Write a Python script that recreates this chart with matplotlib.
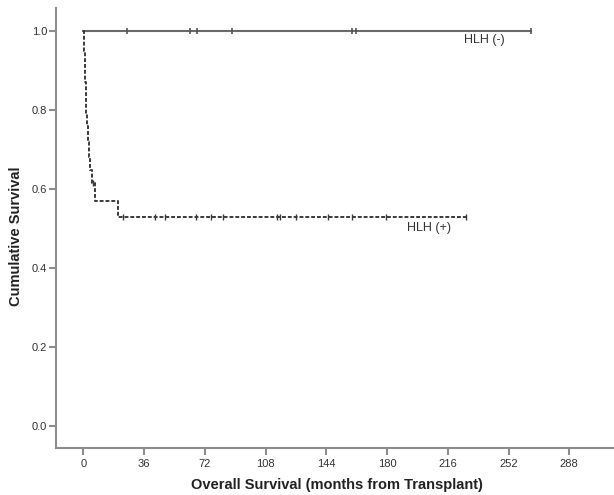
import numpy as np
import matplotlib.pyplot as plt

# Kaplan-Meier steps (months, survival after the step)
neg_times = [0, 265.4]
neg_surv = [1.0, 1.0]
neg_censor = [25.7, 63.3, 67.6, 88.0, 159.2, 161.7, 265.4]

pos_times = [0, 0.6, 0.9, 1.2, 1.5, 1.8, 2.1, 2.6, 3.2, 4.0, 5.2, 7.0, 20.8, 227.0]
pos_surv = [1.0, 0.95, 0.91, 0.87, 0.83, 0.79, 0.76, 0.72, 0.68, 0.648, 0.615, 0.570, 0.529, 0.529]
pos_censor_t = [5.8, 23.7, 42.5, 48.5, 66.8, 75.5, 83.0, 115.0, 116.7, 126.2, 144.7, 159.2, 179.5, 227.0]

x_ticks = [0, 36, 72, 108, 144, 180, 216, 252, 288]
y_ticks = [0.0, 0.2, 0.4, 0.6, 0.8, 1.0]

plt.rcParams['font.family'] = ['Liberation Sans', 'DejaVu Sans']

fig = plt.figure(figsize=(6.14, 4.95), dpi=100)
ax = fig.add_axes([55.7 / 614, 47 / 495, 1 - 55.7 / 614, (448 - 8) / 495])

ax.step(neg_times, neg_surv, where='post', color='#6a6a6a', lw=1.5)
ax.plot(neg_censor, [1.0] * len(neg_censor), ls='none', marker='|',
        ms=5, mew=1.2, color='#555555')

pos_line_style = (0, (2, 1))
ax.step(pos_times, pos_surv, where='post', color='#3a3a3a', lw=1.4, ls=pos_line_style)


def surv_at(t):
    idx = np.searchsorted(pos_times, t, side='right') - 1
    return pos_surv[idx]


pos_censor_s = [surv_at(t) for t in pos_censor_t]
ax.plot(pos_censor_t, pos_censor_s, ls='none', marker='|', ms=5, mew=1.0, color='#3a3a3a')

ax.text(225.8, 0.978, 'HLH (-)', fontsize=9, color='#333333', va='center', ha='left')
ax.text(191.8, 0.5005, 'HLH (+)', fontsize=9, color='#333333', va='center', ha='left')

ax.set_xlim(-16.4, 314.5)
ax.set_ylim(-0.055, 1.058)
ax.set_xticks(x_ticks)
ax.set_yticks(y_ticks)
ax.set_yticklabels(['%.1f' % v for v in y_ticks])

for side in ['top', 'right']:
    ax.spines[side].set_visible(False)
for side in ['left', 'bottom']:
    ax.spines[side].set_color('#8c8c8c')
    ax.spines[side].set_linewidth(1.5)

ax.tick_params(axis='both', colors='#8c8c8c', width=1.5, length=5,
               labelcolor='#333333', labelsize=8)
ax.tick_params(axis='y', pad=1)
ax.tick_params(axis='x', pad=3)

fig.text(16 / 614, 1 - 236 / 495, 'Cumulative Survival', rotation=90, fontsize=10.5,
         fontweight='bold', color='#222222', ha='center', va='center')
fig.text(337 / 614, 1 - 485 / 495, 'Overall Survival (months from Transplant)', fontsize=10.5,
         fontweight='bold', color='#222222', ha='center', va='center')

fig.savefig('out.png', dpi=100)
